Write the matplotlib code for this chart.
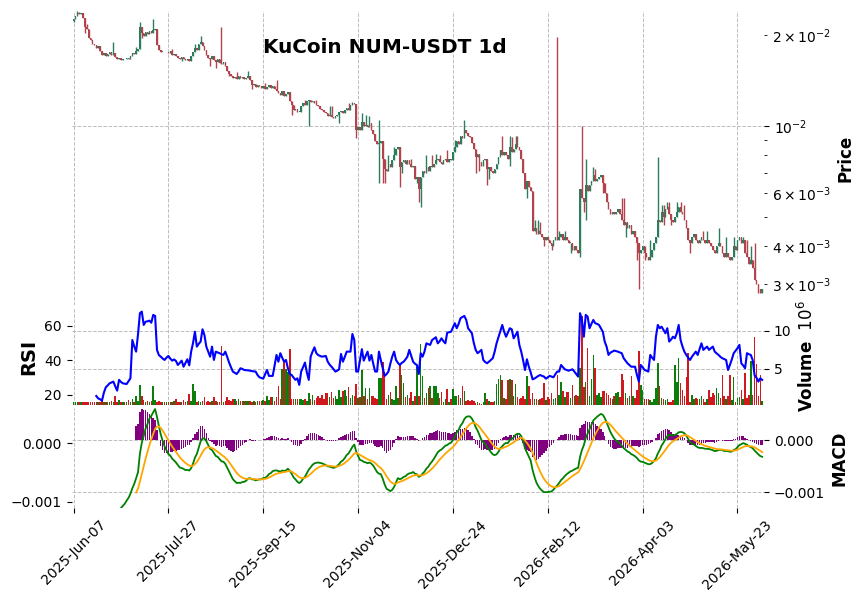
import numpy as np
import pandas as pd
import matplotlib
matplotlib.use('Agg')
import matplotlib.pyplot as plt
from matplotlib.ticker import FuncFormatter

title = 'KuCoin NUM-USDT 1d'
start_date = '2025-06-07'
first_open = 0.0222

# daily closes (USDT)
closes = [
    0.0226, 0.0231, 0.0236, 0.0234, 0.0237, 0.0228, 0.0213, 0.0209, 0.0196,
    0.0193, 0.0187, 0.0185, 0.0181, 0.0184, 0.0177, 0.0172, 0.0174, 0.0171, 0.0173,
    0.0175, 0.0172, 0.0174, 0.0169, 0.0166, 0.0168, 0.0165, 0.0167, 0.0166, 0.0168,
    0.0167, 0.0170, 0.0174, 0.0173, 0.0177, 0.0180, 0.0212, 0.0203, 0.0199, 0.0204,
    0.0201, 0.0206, 0.0203, 0.0207, 0.0209, 0.0185, 0.0178, 0.0176, 0.0176, 0.0175,
    0.0176, 0.0174, 0.0177, 0.0172, 0.0173, 0.0171, 0.0168, 0.0166, 0.0169, 0.0167,
    0.0165, 0.0167, 0.0164, 0.0170, 0.0176, 0.0181, 0.0178, 0.0186, 0.0189, 0.0184,
    0.0179, 0.0172, 0.0168, 0.0166, 0.0170, 0.0165, 0.0163, 0.0166, 0.0162, 0.0160,
    0.0163, 0.0158, 0.0152, 0.0149, 0.0146, 0.0144, 0.0145, 0.0143, 0.0146, 0.0144,
    0.0145, 0.0143, 0.0144, 0.0146, 0.0142, 0.0137, 0.0138, 0.0135, 0.0137, 0.0136,
    0.0134, 0.0136, 0.0133, 0.0135, 0.0137, 0.0134, 0.0136, 0.0133, 0.0131, 0.0129,
    0.0127, 0.0131, 0.0126, 0.0128, 0.0130, 0.0121, 0.0117, 0.0113, 0.0114, 0.0111,
    0.0111, 0.0116, 0.0119, 0.0117, 0.0121, 0.0122, 0.0120, 0.0121, 0.0119, 0.0117,
    0.0116, 0.0114, 0.0113, 0.0111, 0.0110, 0.0108, 0.0109, 0.0107, 0.0106, 0.0108,
    0.0109, 0.0111, 0.0112, 0.0110, 0.0113, 0.0115, 0.0113, 0.0117, 0.0119, 0.0118,
    0.0097, 0.0099, 0.0097, 0.0103, 0.0100, 0.0101, 0.0099, 0.0102, 0.0097, 0.0094,
    0.0089, 0.0087, 0.0088, 0.0089, 0.0078, 0.0072,
    0.0071, 0.0075, 0.0073, 0.0077, 0.0080, 0.0084, 0.0085, 0.0073, 0.0076, 0.0077,
    0.0075, 0.0077, 0.0075, 0.0073, 0.0074, 0.0067, 0.0068, 0.0062, 0.0068, 0.0071,
    0.0070, 0.0073, 0.0071, 0.0074, 0.0073, 0.0075, 0.0077, 0.0078, 0.0076, 0.0075,
    0.0077, 0.0078, 0.0076, 0.0078, 0.0077, 0.0082, 0.0085, 0.0089, 0.0087, 0.0093,
    0.0091, 0.0097, 0.0095, 0.0093, 0.0092, 0.0088,
    0.0084, 0.0079, 0.0081, 0.0076, 0.0074, 0.0077, 0.0078, 0.0072, 0.0073, 0.0071,
    0.0070, 0.0072,
    0.0075, 0.0079, 0.0083, 0.0080, 0.0082, 0.0080, 0.0078, 0.0085, 0.0082, 0.0084,
    0.0087, 0.0085, 0.0083, 0.0078, 0.0070, 0.0062, 0.0066, 0.0063, 0.0061, 0.0045,
    0.0046, 0.0044, 0.0045, 0.0044, 0.0043, 0.0042, 0.0043, 0.0042, 0.0041, 0.0040,
    0.0042, 0.0043, 0.0042, 0.0043, 0.0044, 0.0042, 0.0043, 0.0042, 0.0041, 0.0041,
    0.0039, 0.0040, 0.0039, 0.0038, 0.0062, 0.0058, 0.0056, 0.0064, 0.0061,
    0.0064, 0.0066, 0.0069, 0.0066, 0.0067, 0.0068, 0.0069, 0.0065, 0.0060, 0.0056,
    0.0053, 0.0051, 0.0052, 0.0051, 0.0052, 0.0053, 0.0051, 0.0049, 0.0047, 0.0048,
    0.0046, 0.0047, 0.0044, 0.0045, 0.0043, 0.0041, 0.0038, 0.0039, 0.0040,
    0.0038, 0.0037, 0.0036, 0.0037, 0.0039, 0.0041, 0.0043, 0.0049, 0.0048, 0.0052,
    0.0050, 0.0053, 0.0054, 0.0051, 0.0049, 0.0048, 0.0050, 0.0052, 0.0054, 0.0052,
    0.0051, 0.0049, 0.0046, 0.0042, 0.0041, 0.0043, 0.0044, 0.0042, 0.0041, 0.0042,
    0.0043, 0.0042, 0.0041, 0.0042, 0.0041, 0.0040, 0.0039, 0.0038, 0.0040, 0.0041,
    0.0040, 0.0038, 0.0037, 0.0038, 0.0037, 0.0036, 0.0037, 0.0040, 0.0039, 0.0042,
    0.0043, 0.0041, 0.0042, 0.0038, 0.0037, 0.0035, 0.0036, 0.0034, 0.0031, 0.0030,
    0.0029, 0.0028, 0.0029,
]

# daily volume, millions
volumes_m = [
    0.7, 0.6, 0.6, 0.7, 0.6, 0.6, 0.7, 0.6, 0.7, 0.6,
    0.6, 0.7, 0.6, 0.7, 0.6, 0.8, 0.6, 0.7, 0.6, 0.7,
    0.8, 0.7, 1.4, 0.7, 0.9, 0.6, 0.7, 0.6, 0.7, 0.9,
    0.7, 1.0, 0.7, 1.4, 0.8, 2.9, 1.4, 0.9, 0.7, 0.8,
    0.7, 0.8, 2.8, 0.9, 0.7, 0.8, 0.7, 0.6, 0.7, 0.7,
    0.6, 0.7, 0.6, 0.8, 1.1, 0.7, 0.6, 0.7, 0.9, 0.7,
    0.8, 1.7, 0.8, 3.0, 2.1, 0.6, 0.8, 0.7, 0.8, 1.3,
    0.7, 0.8, 0.7, 0.8, 1.3, 0.8, 0.7, 0.6, 8.0, 0.7,
    0.8, 1.3, 0.9, 0.8, 1.1, 1.0, 0.8, 1.0, 0.8, 0.8,
    0.8, 0.8, 0.8, 0.8, 0.7, 0.8, 0.7, 0.8, 0.8, 0.8,
    0.9, 0.8, 1.5, 0.9, 1.3, 1.3, 0.8, 1.3, 2.8, 1.0,
    5.0, 5.9, 5.0, 4.6, 7.6, 1.1, 1.0, 1.1, 1.0, 1.1,
    1.1, 0.9, 1.1, 0.8, 1.8, 1.0, 1.6, 0.9, 1.2, 1.4,
    1.2, 1.6, 1.0, 1.8, 1.8, 1.3, 2.0, 1.2, 1.4, 1.0,
    2.2, 1.3, 2.1, 2.2, 1.5, 2.6, 1.2, 1.6, 1.4, 3.0,
    1.2, 1.3, 4.9, 1.4, 2.5, 1.1, 2.5, 1.5, 1.4, 1.2,
    1.0, 3.8, 3.8, 5.9, 4.6, 1.0, 1.6, 2.0, 1.1, 0.9,
    2.7, 1.2, 5.5, 4.2, 3.1, 1.3, 1.6, 1.2, 2.0, 0.8,
    1.4, 5.3, 1.5, 8.3, 4.1, 1.2, 1.8, 2.5, 2.8, 1.2,
    2.7, 2.7, 1.8, 1.2, 2.0, 0.7, 1.1, 2.3, 0.7, 1.0,
    2.3, 1.4, 1.4, 1.6, 1.2, 2.8, 2.1, 0.8, 0.9, 0.8,
    0.9, 0.8, 0.5, 0.6, 0.5, 0.4, 0.7, 1.8, 1.0, 0.8,
    0.7, 0.6, 0.8, 3.0, 3.7, 4.2, 3.6, 1.2, 1.1, 3.6,
    3.7, 3.6, 1.5, 3.0, 1.3, 1.1, 1.2, 1.4, 1.0, 4.1,
    2.8, 1.1, 1.8, 1.1, 1.0, 0.9, 1.1, 1.2, 3.1, 0.9,
    1.3, 1.0, 1.8, 1.1, 1.2, 4.2, 1.6, 3.3, 2.1, 1.3,
    2.0, 2.0, 1.2, 2.9, 1.4, 1.6, 1.4, 5.1, 11.9, 2.6,
    3.3, 7.7, 1.5, 3.7, 6.8, 5.1, 1.6, 1.8, 1.3, 2.1,
    2.1, 1.8, 1.6, 1.2, 1.1, 1.4, 1.8, 2.0, 1.3, 4.3,
    3.6, 1.8, 1.2, 1.4, 4.1, 1.4, 1.2, 2.2, 7.3, 2.9,
    2.2, 1.0, 1.1, 1.0, 0.9, 0.7, 1.0, 2.5, 5.8, 2.7,
    1.2, 1.1, 0.9, 1.1, 0.7, 0.7, 0.9, 5.5, 3.3, 6.4,
    3.1, 2.2, 1.5, 4.0, 7.1, 0.7, 1.6, 1.0, 1.2, 1.0,
    1.0, 1.4, 1.1, 0.7, 1.0, 2.2, 1.3, 1.8, 1.6, 2.5,
    1.9, 1.2, 4.2, 1.4, 1.1, 1.4, 4.2, 0.9, 3.9, 0.7,
    1.2, 1.3, 2.2, 1.1, 4.4, 1.2, 1.6, 6.1, 1.6, 9.2,
    5.7, 1.5, 4.2, 0.8,
]

# RSI line, first value on day 12
rsi_start = 12
rsi_values = [
    19.4, 18.0, 17.5, 16.7, 21.3, 24.4, 25.5, 26.7,
    27.2, 27.7, 25.0, 22.5, 28.7, 27.5, 26.7, 26.5, 26.3, 28.0,
    29.6, 51.7, 48.0, 45.0, 55.0, 67.2, 68.1, 60.4, 62.3, 62.5,
    62.9, 61.7, 66.2, 65.6, 46.0, 43.0, 42.1, 41.0, 40.2, 41.5,
    42.5, 41.0, 39.8, 40.5, 39.6, 37.3, 38.5, 39.8, 36.3, 38.5,
    40.6, 37.1, 45.0, 50.0, 56.5, 47.9, 49.5, 50.8, 57.9, 54.6,
    47.9, 45.0, 42.1, 47.9, 40.2, 45.0, 44.5, 44.1, 43.5, 43.1,
    45.0, 42.0, 38.7, 36.0, 33.5, 32.8, 32.1, 33.5, 35.4, 35.0,
    34.4, 34.3, 34.2, 34.0, 33.8, 33.6, 33.5, 31.5, 30.2, 29.8,
    29.4, 32.0, 34.4, 31.0, 31.0, 31.0, 37.0, 43.1, 39.2, 44.1,
    41.5, 39.2, 40.2, 35.4, 32.1, 31.5, 30.0, 28.7, 29.6, 25.8,
    33.5, 36.0, 38.7, 33.0, 28.7, 42.1, 45.0, 47.5, 44.1, 43.0,
    42.5, 42.1, 42.3, 42.5, 39.2, 37.5, 36.3, 35.0, 33.5, 34.0,
    34.8, 43.7, 39.2, 42.0, 45.0, 45.0, 45.0, 55.2, 51.7, 33.5,
    33.5, 40.0, 46.4, 39.8, 42.5, 45.0, 39.8, 43.1, 38.0, 33.5,
    33.5, 45.0, 40.0, 35.4, 31.0, 32.0, 33.5, 38.0, 42.1, 45.0,
    40.2, 38.5, 37.3, 38.5, 39.2, 40.5, 42.1, 46.0, 42.5, 39.2,
    38.0, 37.3, 32.1, 44.1, 42.1, 45.0, 49.8, 49.3, 48.9, 51.7,
    52.5, 53.3, 49.8, 51.0, 52.7, 51.0, 49.8, 56.0, 56.2, 56.5,
    59.0, 61.4, 58.5, 61.0, 64.3, 65.0, 65.6, 63.3, 58.5, 57.0,
    55.6, 50.0, 46.0, 44.1, 45.0, 46.0, 40.2, 39.0, 38.3, 39.2,
    40.2, 41.2, 45.0, 49.8, 53.3, 57.0, 60.4, 56.5, 53.6, 56.0,
    58.5, 57.9, 52.7, 54.5, 56.5, 48.9, 45.0, 40.0, 34.4, 40.6,
    36.3, 33.0, 29.0, 29.5, 30.2, 31.0, 31.5, 31.0, 30.6, 29.4,
    30.2, 31.0, 30.6, 30.2, 32.0, 33.5, 33.5, 37.3, 36.0, 34.8,
    34.4, 34.0, 34.4, 34.8, 33.5, 32.0, 30.6, 67.2, 63.3, 53.6,
    66.2, 65.2, 58.5, 61.0, 63.3, 61.4, 61.0, 60.4, 58.5, 56.5,
    50.8, 47.9, 43.1, 44.4, 45.0, 45.6, 45.3, 45.0, 44.5, 44.1,
    41.2, 39.8, 38.3, 37.3, 36.3, 36.3, 36.3, 31.5, 27.7, 37.3,
    36.0, 34.4, 34.0, 33.5, 43.1, 41.5, 40.2, 53.6, 60.4, 58.5,
    59.4, 57.5, 55.6, 58.5, 50.8, 52.0, 53.6, 52.7, 55.6, 60.4,
    51.7, 48.0, 45.0, 43.1, 41.5, 40.2, 42.1, 43.5, 45.0, 43.1,
    46.5, 49.8, 46.0, 47.0, 47.9, 46.0, 47.0, 47.9, 45.0, 44.0,
    43.1, 42.0, 41.2, 40.7, 40.2, 34.4, 37.3, 40.5, 44.1, 45.5,
    47.0, 48.9, 38.3, 37.0, 35.4, 44.1, 43.5, 43.1, 40.2, 31.5,
    30.0, 27.7, 29.6, 28.7,
]

# visible wicks beyond the candle bodies
wick_highs = {2: 0.0240, 3: 0.0239, 7: 0.0218, 21: 0.0190, 33: 0.0183, 35: 0.0221,
              42: 0.0226, 52: 0.0180, 64: 0.0186, 67: 0.0199, 78: 0.0213, 86: 0.0151,
              92: 0.0152, 101: 0.0139, 107: 0.0142, 122: 0.0122, 128: 0.0122,
              135: 0.0116, 136: 0.0116, 145: 0.0119, 147: 0.0120, 152: 0.0110,
              154: 0.0109, 156: 0.0108, 161: 0.0105, 166: 0.0080, 169: 0.0085,
              175: 0.0077, 178: 0.0078, 186: 0.0080, 189: 0.0080, 191: 0.0081,
              193: 0.0080, 197: 0.0083, 201: 0.0090, 206: 0.0105, 226: 0.0093,
              230: 0.0093, 231: 0.0092, 233: 0.0093, 234: 0.0093, 243: 0.0049,
              245: 0.0049, 246: 0.0048, 255: 0.0197, 256: 0.0045, 259: 0.0045,
              268: 0.0100, 270: 0.0078, 274: 0.0073, 275: 0.0072, 289: 0.0058,
              290: 0.0058, 304: 0.0042, 308: 0.0079, 310: 0.0055, 311: 0.0055,
              313: 0.0056, 314: 0.0056, 318: 0.0056, 320: 0.0056, 322: 0.0055,
              332: 0.0045, 334: 0.0045, 340: 0.0046, 344: 0.0043, 348: 0.0043,
              353: 0.0043, 355: 0.0042, 357: 0.0040, 359: 0.0041}
wick_lows = {0: 0.0220, 6: 0.0203, 36: 0.0195, 57: 0.0164, 72: 0.0158, 75: 0.0155,
             82: 0.0146, 94: 0.0133, 115: 0.0109, 124: 0.0100, 140: 0.0102,
             149: 0.0091, 161: 0.0065, 163: 0.0065, 164: 0.0065, 168: 0.0073,
             172: 0.0063, 173: 0.0070, 181: 0.0065, 182: 0.0056, 183: 0.0054,
             212: 0.0070, 214: 0.0071, 218: 0.0064, 219: 0.0067, 230: 0.0074,
             239: 0.0058, 248: 0.0040, 252: 0.0039, 262: 0.0038, 267: 0.0037,
             269: 0.0052, 270: 0.0049, 279: 0.0060, 291: 0.0043, 297: 0.0036,
             298: 0.0029, 301: 0.0036, 311: 0.0047, 315: 0.0047, 325: 0.0038,
             361: 0.0028}

up_color, down_color = '#2b7d5d', '#b2434d'
vol_up, vol_down = '#0a7d0a', '#d0181f'
grid_kw = dict(color='#bdbdbd', linestyle='--', linewidth=0.7)

dates = pd.date_range(start_date, periods=len(closes), freq='D')
close = pd.Series(closes, dtype=float)
opens = close.shift(1)
opens.iloc[0] = first_open
highs = np.maximum(opens, close).to_numpy()
lows = np.minimum(opens, close).to_numpy()
for k, v in wick_highs.items():
    highs[k] = max(highs[k], v)
for k, v in wick_lows.items():
    lows[k] = min(lows[k], v)
x = np.arange(len(closes))
up = (close >= opens).to_numpy()

rsi_x = np.arange(rsi_start, rsi_start + len(rsi_values))

# MACD 12/26/9 from the closes
ema12 = close.ewm(span=12, adjust=False).mean()
ema26 = close.ewm(span=26, adjust=False).mean()
macd = ema12 - ema26
macd.iloc[:25] = np.nan
signal = macd.ewm(span=9, adjust=False, min_periods=9).mean()
hist = macd - signal

fig = plt.figure(figsize=(8.65, 6), dpi=100)
L, W = 0.0828, 0.8005
ax1 = fig.add_axes([L, 0.4917, W, 0.49])
ax2 = fig.add_axes([L, 0.325, W, 0.1617], sharex=ax1)
ax3 = fig.add_axes([L, 0.1533, W, 0.1667], sharex=ax1)
ax2r = ax2.twinx()
ax3l = ax3.twinx()

# candles
ccol = np.where(up, up_color, down_color)
ax1.vlines(x, lows, highs, colors=ccol, linewidth=1.0)
body_lo = np.minimum(opens, close).to_numpy()
body_h = np.maximum(np.abs(close - opens).to_numpy(), close.to_numpy() * 0.006)
ax1.bar(x, body_h, bottom=body_lo, width=0.8, color=ccol, linewidth=0)
ax1.set_yscale('log')
ax1.set_ylim(0.00256, 0.0240)
ax1.set_xlim(-1, len(closes))
ax1.yaxis.tick_right()
ax1.yaxis.set_label_position('right')
ax1.set_ylabel('Price', fontsize=12, fontweight='bold')
ax1.grid(True, which='major', **grid_kw)
ax1.tick_params(axis='x', bottom=False, labelbottom=False)
fig.text(0.445, 0.921, title, ha='center', va='center', fontsize=14.4, fontweight='bold')

# volume (right) + RSI (left)
vcol = np.where(up, vol_up, vol_down)
ax2.bar(x, np.array(volumes_m) * 1e6, width=0.8, color=vcol, linewidth=0)
ax2.set_ylim(0.26e6, 13.0e6)
ax2.set_yticks([5e6, 10e6])
ax2.yaxis.set_major_formatter(FuncFormatter(lambda v, p: f'{v / 1e6:g}'))
ax2.yaxis.tick_right()
ax2.yaxis.set_label_position('right')
ax2.set_ylabel('Volume  $10^{6}$', fontsize=12, fontweight='bold')
ax2.grid(True, **grid_kw)
ax2.tick_params(axis='x', bottom=False, labelbottom=False)

ax2r.plot(rsi_x, rsi_values, color='blue', linewidth=1.5)
ax2r.set_ylim(14.2, 70.2)
ax2r.set_yticks([20, 40, 60])
ax2r.yaxis.tick_left()
ax2r.yaxis.set_label_position('left')
ax2r.set_ylabel('RSI', fontsize=14, fontweight='bold')
ax2r.tick_params(axis='x', bottom=False, labelbottom=False)

# MACD (right) with a left scale
def fmt3(v, p):
    s = f'{v:.3f}'
    if s == '-0.000':
        s = '0.000'
    return s.replace('-', '\u2212')

ax3.bar(x, hist, width=0.75, color='purple', linewidth=0)
ax3.plot(x, macd, color='green', linewidth=1.3)
ax3.plot(x, signal, color='orange', linewidth=1.3)
ax3.set_ylim(-0.0013, 0.000612)
ax3.set_yticks([-0.001, 0.0])
ax3.yaxis.set_major_formatter(FuncFormatter(fmt3))
ax3.yaxis.tick_right()
ax3.yaxis.set_label_position('right')
ax3.set_ylabel('MACD', fontsize=12, fontweight='bold')
ax3.grid(True, **grid_kw)
tick_pos = list(range(0, len(closes), 50))
ax3.set_xticks(tick_pos)
ax3.set_xticklabels([dates[i].strftime('%Y-%b-%d') for i in tick_pos], rotation=45)

ax3l.set_ylim(-0.00111, 0.000604)
ax3l.set_yticks([-0.001, 0.0])
ax3l.yaxis.set_major_formatter(FuncFormatter(fmt3))
ax3l.yaxis.tick_left()
ax3l.tick_params(axis='x', bottom=False, labelbottom=False)

for ax in (ax1, ax2, ax2r, ax3, ax3l):
    for sp in ax.spines.values():
        sp.set_visible(False)
    ax.set_axisbelow(True)

fig.savefig('out.png', dpi=100)
